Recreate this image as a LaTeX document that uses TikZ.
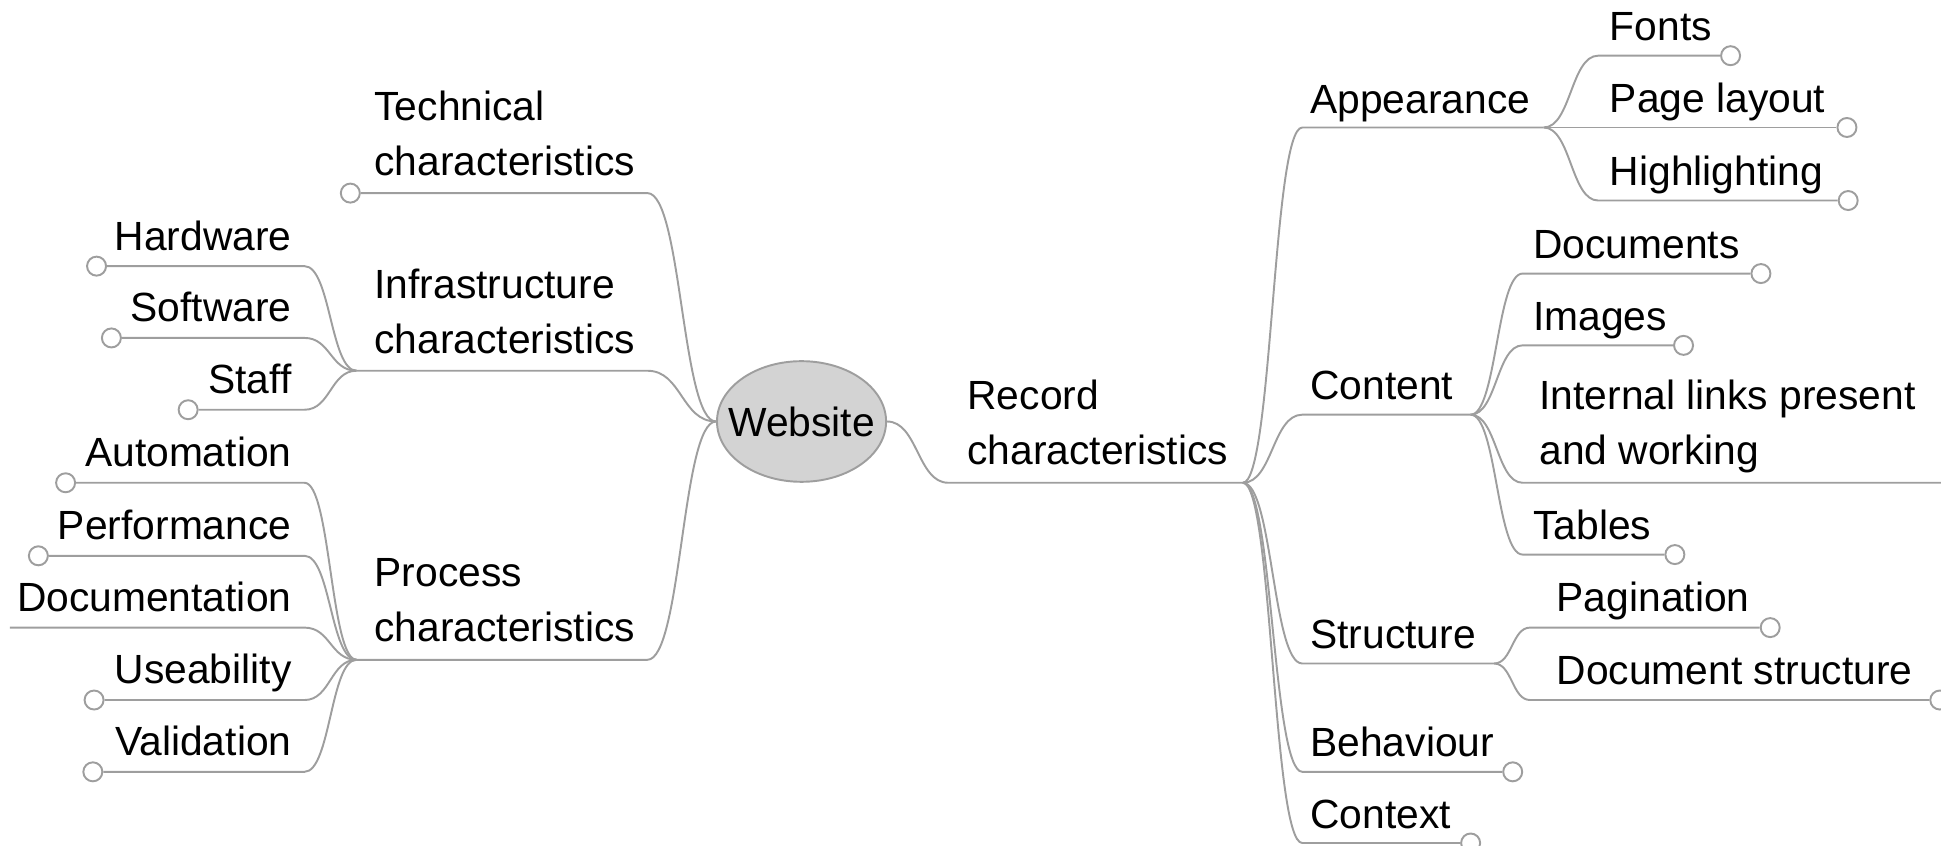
\documentclass[tikz,border=0pt]{standalone}
\usepackage{fontspec}
\setmainfont{Liberation Sans}
\usetikzlibrary{calc,shapes.geometric}
\definecolor{linegray}{RGB}{158,158,158}
\definecolor{hubfill}{RGB}{211,211,211}
\tikzset{
  link/.style={draw=linegray, line width=0.55pt},
  branch/.style={to path={let \p1=(\tikztostart), \p2=(\tikztotarget) in
    .. controls ({(\x1+\x2)/2},\y1) and ({(\x1+\x2)/2},\y2) .. (\tikztotarget)}},
  leaf/.style={circle, draw=linegray, fill=white, line width=0.55pt, inner sep=0pt, minimum size=0.19cm},
  label/.style={inner sep=0pt, align=left, font=\fontsize{11.6}{15.6}\selectfont},
  rlabel/.style={label, anchor=base west},
  llabel/.style={label, anchor=base east},
  hub/.style={ellipse, draw=linegray, fill=hubfill, line width=0.55pt, inner xsep=-0.135cm, inner ysep=0pt,
    minimum height=1.206cm, font=\fontsize{11.6}{15.6}\selectfont},
}
\begin{document}
\begin{tikzpicture}[x=0.01238cm, y=-0.01238cm]
  \useasboundingbox (0,0) rectangle (1568,683);

  \node[hub] (web) at (647.5,340.5) {Website};

  % left side
  \node[leaf] (tech) at (283,156) {};
  \coordinate (tech-e) at (523,156);
  \node[rlabel] (tech-l) at (302,142) {Technical\\characteristics};

  \coordinate (infra-w) at (288,299.5);
  \coordinate (infra-e) at (523,299.5);
  \node[rlabel] (infra-l) at (302,285.5) {Infrastructure\\characteristics};

  \coordinate (proc-w) at (288,533);
  \coordinate (proc-e) at (523,533);
  \node[rlabel] (proc-l) at (302,518.5) {Process\\characteristics};

  \node[leaf] (hw) at (78,215) {};
  \coordinate (hw-e) at (246,215);
  \node[llabel] (hw-l) at (236,202) {Hardware};
  \node[leaf] (sw) at (90,273) {};
  \coordinate (sw-e) at (246,273);
  \node[llabel] (sw-l) at (236,260) {Software};
  \node[leaf] (staff) at (152,331) {};
  \coordinate (staff-e) at (246,331);
  \node[llabel] (staff-l) at (236,318) {Staff};

  \node[leaf] (auto) at (53,390) {};
  \coordinate (auto-e) at (246,390);
  \node[llabel] (auto-l) at (236,377) {Automation};
  \node[leaf] (perf) at (31,449) {};
  \coordinate (perf-e) at (246,449);
  \node[llabel] (perf-l) at (236,436) {Performance};
  \coordinate (docu) at (8,507);
  \coordinate (docu-e) at (246,507);
  \node[llabel] (docu-l) at (236,494) {Documentation};
  \node[leaf] (use) at (76,565.5) {};
  \coordinate (use-e) at (246,565.5);
  \node[llabel] (use-l) at (236,552.5) {Useability};
  \node[leaf] (val) at (75,623.5) {};
  \coordinate (val-e) at (246,623.5);
  \node[llabel] (val-l) at (236,610.5) {Validation};

  \draw[link] (tech) -- (tech-e) to[branch] (web.west);
  \draw[link] (infra-w) -- (infra-e) to[branch] (web.west);
  \draw[link] (proc-w) -- (proc-e) to[branch] (web.west);
  \draw[link] (hw) -- (hw-e) to[branch] (infra-w);
  \draw[link] (sw) -- (sw-e) to[branch] (infra-w);
  \draw[link] (staff) -- (staff-e) to[branch] (infra-w);
  \draw[link] (auto) -- (auto-e) to[branch] (proc-w);
  \draw[link] (perf) -- (perf-e) to[branch] (proc-w);
  \draw[link] (docu) -- (docu-e) to[branch] (proc-w);
  \draw[link] (use) -- (use-e) to[branch] (proc-w);
  \draw[link] (val) -- (val-e) to[branch] (proc-w);

  % right side
  \coordinate (rec-w) at (766,390);
  \coordinate (rec-e) at (1004,390);
  \node[rlabel] (rec-l) at (781,375.5) {Record\\characteristics};

  \coordinate (app-w) at (1052,103);
  \coordinate (app-e) at (1247,103);
  \node[rlabel] (app-l) at (1058,91.5) {Appearance};
  \coordinate (fonts-w) at (1291,45);
  \node[leaf] (fonts) at (1398,45) {};
  \node[rlabel] (fonts-l) at (1300,33) {Fonts};
  \node[leaf] (layout) at (1492,103) {};
  \node[rlabel] (layout-l) at (1300,91) {Page layout};
  \coordinate (high-w) at (1291,162);
  \node[leaf] (high) at (1493,162) {};
  \node[rlabel] (high-l) at (1300,150) {Highlighting};

  \coordinate (cont-w) at (1052,335);
  \coordinate (cont-e) at (1188,335);
  \node[rlabel] (cont-l) at (1058,323) {Content};
  \coordinate (docs-w) at (1230,221);
  \node[leaf] (docs) at (1422.5,221) {};
  \node[rlabel] (docs-l) at (1238,209) {Documents};
  \coordinate (img-w) at (1230,279);
  \node[leaf] (img) at (1360,279) {};
  \node[rlabel] (img-l) at (1238,267) {Images};
  \coordinate (links-w) at (1230,390);
  \coordinate (links) at (1568,390);
  \node[rlabel] (links-l) at (1243,375) {Internal links present\\and working};
  \coordinate (tab-w) at (1230,448);
  \node[leaf] (tab) at (1353,448) {};
  \node[rlabel] (tab-l) at (1238,436) {Tables};

  \coordinate (str-w) at (1052,536);
  \coordinate (str-e) at (1207,536);
  \node[rlabel] (str-l) at (1058,523.5) {Structure};
  \coordinate (pag-w) at (1236,507);
  \node[leaf] (pag) at (1430,507) {};
  \node[rlabel] (pag-l) at (1257,494) {Pagination};
  \coordinate (dstr-w) at (1236,565.5);
  \node[leaf] (dstr) at (1567,565.5) {};
  \node[rlabel] (dstr-l) at (1257,553) {Document structure};

  \coordinate (beh-w) at (1052,623.5);
  \node[leaf] (beh) at (1222,623.5) {};
  \node[rlabel] (beh-l) at (1058,611) {Behaviour};
  \coordinate (ctx-w) at (1052,681);
  \node[leaf] (ctx) at (1188,681) {};
  \node[rlabel] (ctx-l) at (1058,669) {Context};

  \draw[link] (web.east) to[branch] (rec-w) -- (rec-e);
  \draw[link] (rec-e) to[branch] (app-w) -- (app-e);
  \draw[link] (rec-e) to[branch] (cont-w) -- (cont-e);
  \draw[link] (rec-e) to[branch] (str-w) -- (str-e);
  \draw[link] (rec-e) to[branch] (beh-w) -- (beh);
  \draw[link] (rec-e) to[branch] (ctx-w) -- (ctx);
  \draw[link] (app-e) to[branch] (fonts-w) -- (fonts);
  \draw[link] (app-e) -- (layout);
  \draw[link] (app-e) to[branch] (high-w) -- (high);
  \draw[link] (cont-e) to[branch] (docs-w) -- (docs);
  \draw[link] (cont-e) to[branch] (img-w) -- (img);
  \draw[link] (cont-e) to[branch] (links-w) -- (links);
  \draw[link] (cont-e) to[branch] (tab-w) -- (tab);
  \draw[link] (str-e) to[branch] (pag-w) -- (pag);
  \draw[link] (str-e) to[branch] (dstr-w) -- (dstr);
\end{tikzpicture}
\end{document}
